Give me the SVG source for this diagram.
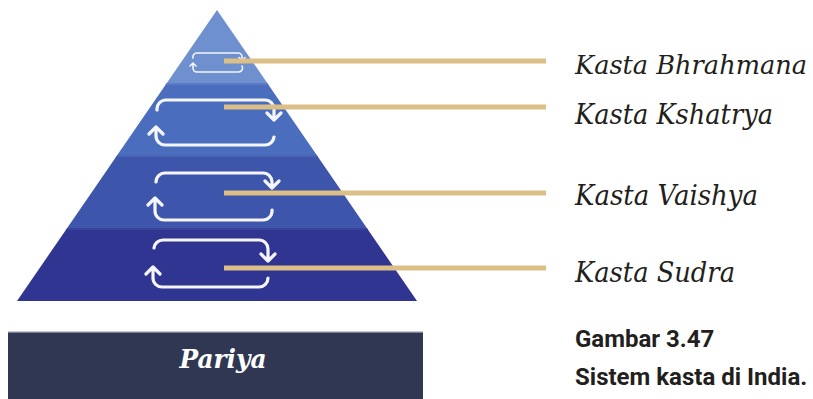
<svg xmlns="http://www.w3.org/2000/svg" width="813" height="399" viewBox="0 0 813 399">
<defs>
<clipPath id="pyr"><polygon points="217,10 417,301 17,301"/></clipPath>
<style>
.loop{fill:none;stroke:#f4f6fb;stroke-width:3.2;stroke-linecap:round;stroke-linejoin:round}
.loop.small{stroke-width:1.6}
.lead{stroke:#dcbf87;stroke-width:5}
.lbl{font-family:"DejaVu Serif","Liberation Serif",serif;font-style:italic;font-size:27px;fill:#231f20}
.cap{font-family:Roboto,"Liberation Sans",sans-serif;font-weight:bold;font-size:24px;fill:#231f20}
</style>
</defs>
<rect width="813" height="399" fill="#ffffff"/>
<g id="pyramid" clip-path="url(#pyr)">
<rect id="band-brahmana" x="0" y="0" width="440" height="83" fill="#6f90cf"/>
<rect id="band-kshatrya" x="0" y="83" width="440" height="72" fill="#4b6dbe"/>
<rect x="0" y="83" width="440" height="2" fill="#5a7bc6"/>
<rect id="band-vaishya" x="0" y="155" width="440" height="73" fill="#3d55aa"/>
<rect x="0" y="155" width="440" height="2" fill="#4a63b3"/>
<rect id="band-sudra" x="0" y="228" width="440" height="73" fill="#2f3591"/>
<rect x="0" y="228" width="440" height="2" fill="#3a429a"/>
</g>
<g id="cycles">
<path class="loop small" d="M193,58 A4,4 0 0 1 197,53 L238,53 A4,4 0 0 1 242,57 L242,60 M239,57.5 L242,60.5 L245,57.5 M242,66 A4,4 0 0 1 238,72 L197,72 A4,4 0 0 1 193,68 L193,63 M190,66 L193,63 L196,66"/>
<path class="loop" d="M157,110 A9,9 0 0 1 166,100 L265,100 A9,9 0 0 1 274,109 L274,120 M267,113 L274,120 L281,113 M274,137 A9,9 0 0 1 265,145 L165,145 A9,9 0 0 1 156,136 L156,127 M149,134 L156,127 L163,134"/>
<path class="loop" d="M156,182 A9,9 0 0 1 165,173 L263,173 A9,9 0 0 1 272,182 L272,188 M265,181 L272,188 L279,181 M272,210 A9,9 0 0 1 263,220 L164,220 A9,9 0 0 1 155,211 L155,198 M148,205 L155,198 L162,205"/>
<path class="loop" d="M154,248 A9,9 0 0 1 163,240 L259,240 A9,9 0 0 1 268,249 L268,261 M261,254 L268,261 L275,254 M268,278 A9,9 0 0 1 259,287 L162,287 A9,9 0 0 1 153,278 L153,267 M146,274 L153,267 L160,274"/>
</g>
<g id="connectors">
<line class="lead" x1="224" y1="61" x2="546" y2="61"/>
<line class="lead" x1="224" y1="107" x2="546" y2="107"/>
<line class="lead" x1="224" y1="193" x2="546" y2="193"/>
<line class="lead" x1="224" y1="268" x2="546" y2="268"/>
</g>
<g id="labels">
<text id="lbl-brahmana" class="lbl" x="575" y="74" font-size="26" textLength="232" lengthAdjust="spacingAndGlyphs" style="font-size:26px">Kasta Bhrahmana</text>
<text id="lbl-kshatrya" class="lbl" x="575" y="124" textLength="198" lengthAdjust="spacingAndGlyphs">Kasta Kshatrya</text>
<text id="lbl-vaishya" class="lbl" x="575" y="205" textLength="183" lengthAdjust="spacingAndGlyphs">Kasta Vaishya</text>
<text id="lbl-sudra" class="lbl" x="575" y="282" textLength="160" lengthAdjust="spacingAndGlyphs">Kasta Sudra</text>
</g>
<g id="pariya">
<rect x="8" y="332" width="415" height="67" fill="#2f3753"/>
<rect x="8" y="331" width="415" height="1.5" fill="#c7cad4"/>
<text x="223" y="368" text-anchor="middle" font-family="DejaVu Serif, Liberation Serif, serif" font-style="italic" font-weight="bold" font-size="26" fill="#ffffff" textLength="87" lengthAdjust="spacingAndGlyphs">Pariya</text>
</g>
<g id="caption">
<text class="cap" x="575" y="347">Gambar 3.47</text>
<text class="cap" x="575" y="385">Sistem kasta di India.</text>
</g>
</svg>
